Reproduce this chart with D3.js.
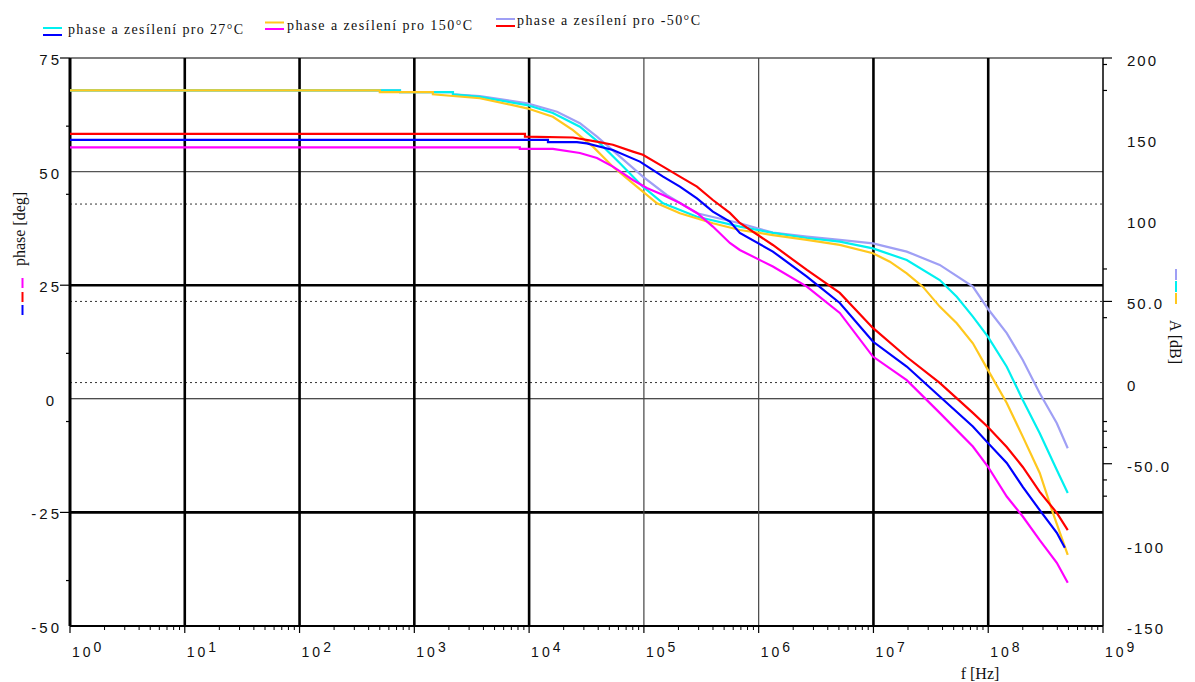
<!DOCTYPE html>
<html><head><meta charset="utf-8">
<script src="https://cdn.jsdelivr.net/npm/d3@7"></script>
<style>body{margin:0;background:#fff}svg{display:block}</style>
</head><body>
<svg id="c" width="1195" height="682"></svg>
<script>
// ---- data (frequency [Hz], value) ----
// phase curves (left axis, deg)
const phase27 = [[1,57.0],[1.46e4,57.0],[1.46e4,56.5],[2.61e4,56.5],[3.18e4,56.2],[5.37e4,54.75],[9.23e4,52.2],[1.47e5,48.9],[2.06e5,46.7],[2.9e5,44.1],[3.99e5,41.2],[5.61e5,39.0],[6.85e5,36.5],[1.33e6,32.4],[2.63e6,26.9],[5.09e6,21.1],[9.89e6,12.6],[1.95e7,7.1],[3.78e7,0.5],[7.35e7,-6.1],[9.93e7,-9.7],[1.45e8,-14.1],[2.0e8,-19.4],[2.81e8,-24.5],[3.96e8,-29.5],[4.65e8,-32.8]];
const phase150 = [[1,55.35],[8.3e3,55.35],[8.3e3,55.0],[1.61e4,55.0],[2.77e4,54.1],[3.9e4,53.0],[5.37e4,51.1],[8.02e4,48.15],[1.06e5,46.4],[1.47e5,44.85],[2.06e5,43.1],[2.9e5,40.9],[3.99e5,37.9],[5.61e5,34.3],[6.85e5,32.75],[1.33e6,29.1],[2.63e6,24.7],[5.09e6,18.9],[9.89e6,9.3],[1.95e7,4.1],[3.78e7,-3.1],[7.35e7,-10.5],[9.93e7,-14.9],[1.45e8,-21.5],[2.0e8,-25.9],[2.81e8,-31.1],[3.96e8,-36.1],[4.93e8,-40.5]];
const phaseM50 = [[1,58.3],[9.2e3,58.3],[9.2e3,57.7],[2.41e4,57.5],[3.87e4,56.6],[5.37e4,55.9],[8.02e4,54.4],[9.8e4,53.7],[1.47e5,51.1],[2.06e5,48.9],[2.9e5,46.7],[3.99e5,43.75],[5.61e5,40.9],[6.85e5,38.7],[1.33e6,33.85],[2.63e6,28.35],[5.09e6,23.3],[9.89e6,15.6],[1.95e7,9.2],[3.78e7,3.5],[7.35e7,-3.1],[9.93e7,-6.2],[1.45e8,-10.6],[2.0e8,-15.0],[2.81e8,-20.5],[3.96e8,-25.1],[4.93e8,-28.9]];
// gain curves (right axis, dB)
const gain27 = [[1,180],[750,180],[750,179],[2.17e3,179],[2.17e3,177.6],[3.72e3,176.0],[9.6e3,171.0],[1.61e4,166.1],[2.77e4,157.7],[4.14e4,147.4],[6.18e4,135.1],[9.8e4,120.7],[1.47e5,110.5],[2.9e5,102.2],[6.85e5,96.1],[1.33e6,92.2],[2.63e6,89.1],[5.09e6,86.8],[9.89e6,82.7],[1.95e7,75.5],[3.78e7,63.2],[5.32e7,52.9],[7.35e7,40.6],[9.93e7,28.3],[1.45e8,9.8],[2.0e8,-10.7],[2.81e8,-31.2],[3.96e8,-53.9],[4.93e8,-68.0]];
const gain150 = [[1,180],[500,180],[500,179],[1.45e3,179],[1.45e3,177.6],[3.72e3,175.2],[9.6e3,169.0],[1.61e4,163.8],[2.41e4,155.6],[3.6e4,145.4],[5.37e4,133.0],[8.02e4,122.8],[1.3e5,110.5],[2.06e5,104.3],[3.99e5,98.2],[6.85e5,94.0],[1.33e6,90.9],[2.63e6,87.9],[5.09e6,84.8],[9.89e6,79.7],[1.39e7,74.5],[1.95e7,67.3],[2.69e7,59.1],[3.78e7,46.8],[5.32e7,36.5],[7.35e7,24.2],[9.93e7,7.8],[1.45e8,-12.6],[2.0e8,-33.3],[2.81e8,-55.7],[3.66e8,-80.3],[4.93e8,-106.2]];
const gainM50 = [[1,180],[750,180],[750,179],[2.17e3,179],[2.17e3,177.6],[3.72e3,176.6],[9.6e3,172.1],[1.75e4,166.9],[2.77e4,159.8],[3.9e4,151.5],[6.18e4,139.2],[9.8e4,126.9],[1.58e5,115.6],[2.9e5,104.3],[6.85e5,98.2],[1.33e6,92.4],[2.63e6,89.9],[5.09e6,87.9],[9.89e6,85.8],[1.95e7,80.7],[3.78e7,72.5],[7.35e7,59.1],[9.93e7,45.5],[1.45e8,30.5],[2.0e8,13.9],[2.81e8,-6.6],[3.96e8,-25.1],[4.93e8,-40.5]];

const legendLabels = ["phase a zesílení pro 27°C","phase a zesílení pro 150°C","phase a zesílení pro -50°C"];
const leftTicks = [-50,-25,0,25,50,75];
const leftTickLabels = ["-50","-25","0","25","50","75"];
const leftMinorTicks = [60,45,10,-5,-40];
const rightTicks = [-150,-100,-50,0,50,100,150,200];
const rightTickLabels = ["-150","-100","-50.0","0","50.0","100","150","200"];
const rightMinorTicks = [196,180,70,40,-24,-30,-40,-60,-70];
const rightDotted = [110,50,0];
const decadeExps = [0,1,2,3,4,5,6,7,8,9];

// ---- scales ----
const svg = d3.select("#c");
const x = d3.scaleLog().domain([1,1e9]).range([70,1103]);
const yL = d3.scaleLinear().domain([-50,75]).range([626,58]);
const yR = d3.scaleLinear().domain([-150,200]).range([626,58]);
const X0 = 70, X1 = 1103;

const numFont = "'Liberation Sans', Arial, sans-serif";
const serif = "'Liberation Serif', 'Times New Roman', serif";

// ---- grid ----
const g = svg.append("g");
g.append("line").attr("x1",X0).attr("x2",X1).attr("y1",yL(75)).attr("y2",yL(75)).attr("stroke","#555").attr("stroke-width",1.5);
const hgrid = [{v:50,w:1.3,c:"#555"},{v:25,w:2.6,c:"#000"},{v:0,w:1.1,c:"#111"},{v:-25,w:2.8,c:"#000"}];
g.selectAll(".hg").data(hgrid).join("line").attr("x1",X0).attr("x2",X1)
  .attr("y1",d=>yL(d.v)).attr("y2",d=>yL(d.v)).attr("stroke",d=>d.c).attr("stroke-width",d=>d.w);
g.selectAll(".dg").data(rightDotted).join("line").attr("x1",X0).attr("x2",X1)
  .attr("y1",d=>yR(d)).attr("y2",d=>yR(d)).attr("stroke","#333").attr("stroke-width",1).attr("stroke-dasharray","2,3");
const vgrid = [1,2,3,4,5,6,7,8].map(k=>({f:Math.pow(10,k),thin:(k===5||k===6)}));
g.selectAll(".vg").data(vgrid).join("line").attr("y1",yL(75)).attr("y2",yL(-50))
  .attr("x1",d=>x(d.f)).attr("x2",d=>x(d.f)).attr("stroke",d=>d.thin?"#444":"#000").attr("stroke-width",d=>d.thin?1.2:2.6);

// ---- axes ----
const bx = svg.append("g").attr("transform",`translate(0,${yL(-50)})`);
bx.append("line").attr("x1",X0).attr("x2",X1).attr("stroke","#000").attr("stroke-width",2);
const minors = [];
for (let k=0;k<9;k++) for (let m=2;m<=9;m++) minors.push(m*Math.pow(10,k));
bx.selectAll(".mt").data(minors).join("line").attr("x1",d=>x(d)).attr("x2",d=>x(d)).attr("y1",0).attr("y2",4).attr("stroke","#000").attr("stroke-width",1);
bx.selectAll(".Mt").data(decadeExps).join("line").attr("x1",d=>x(Math.pow(10,d))).attr("x2",d=>x(Math.pow(10,d))).attr("y1",0).attr("y2",7).attr("stroke","#000").attr("stroke-width",1.2);
const bl = svg.selectAll(".bl").data(decadeExps).join("text")
  .attr("x",d=>x(Math.pow(10,d))+2).attr("y",656.5)
  .attr("font-family",numFont).attr("font-size",14).attr("fill","#111").attr("letter-spacing","3px");
bl.append("tspan").text("10");
bl.append("tspan").attr("dy",-5).text(d=>d);

const ly = svg.append("g");
ly.append("line").attr("x1",X0).attr("x2",X0).attr("y1",yL(75)).attr("y2",yL(-50)).attr("stroke","#000").attr("stroke-width",3);
ly.selectAll(".lt").data([75,25,-25]).join("line").attr("x1",X0-10).attr("x2",X0).attr("y1",d=>yL(d)).attr("y2",d=>yL(d)).attr("stroke","#000").attr("stroke-width",1.2);
ly.selectAll(".lmt").data(leftMinorTicks).join("line").attr("x1",X0-4).attr("x2",X0).attr("y1",d=>yL(d)).attr("y2",d=>yL(d)).attr("stroke","#000").attr("stroke-width",1.2);
ly.selectAll(".ll").data(leftTicks).join("text").attr("x",d=>d===0?57:62).attr("y",d=>yL(d)+7)
  .attr("text-anchor","end").attr("font-family",numFont).attr("font-size",15).attr("fill","#111").attr("letter-spacing","3px")
  .text((d,i)=>leftTickLabels[i]);

const ry = svg.append("g");
ry.append("line").attr("x1",X1).attr("x2",X1).attr("y1",yR(200)).attr("y2",yR(-150)).attr("stroke","#000").attr("stroke-width",1.5);
ry.selectAll(".rt").data([200,50,-50]).join("line").attr("x1",X1).attr("x2",X1+9).attr("y1",d=>yR(d)).attr("y2",d=>yR(d)).attr("stroke","#000").attr("stroke-width",1.2);
ry.selectAll(".rmt").data(rightMinorTicks).join("line").attr("x1",X1).attr("x2",X1+4).attr("y1",d=>yR(d)).attr("y2",d=>yR(d)).attr("stroke","#000").attr("stroke-width",1.2);
ry.selectAll(".rl").data(rightTicks).join("text").attr("x",1127).attr("y",d=>yR(d)+8)
  .attr("font-family",numFont).attr("font-size",15).attr("fill","#111").attr("letter-spacing","2px")
  .text((d,i)=>rightTickLabels[i]);

// ---- curves ----
const lineL = d3.line().x(d=>x(d[0])).y(d=>yL(d[1]));
const lineR = d3.line().x(d=>x(d[0])).y(d=>yR(d[1]));
const cg = svg.append("g").attr("fill","none").attr("stroke-width",2.2).attr("stroke-linejoin","miter");
cg.append("path").datum(gainM50).attr("d",lineR).attr("stroke","#9f9ff5");
cg.append("path").datum(gain27).attr("d",lineR).attr("stroke","#00f0f0");
cg.append("path").datum(gain150).attr("d",lineR).attr("stroke","#ffc81e");
cg.append("path").datum(phase150).attr("d",lineL).attr("stroke","#ff00ff");
cg.append("path").datum(phase27).attr("d",lineL).attr("stroke","#0000ff");
cg.append("path").datum(phaseM50).attr("d",lineL).attr("stroke","#ff0000");

// ---- axis titles ----
svg.append("text").attr("transform","translate(25,229) rotate(-90)").attr("text-anchor","middle")
  .attr("font-family",serif).attr("font-size",16).attr("fill","#111").text("phase [deg]");
const leftMarks = [{c:"#ff00ff",y0:278,y1:288},{c:"#ff0000",y0:292,y1:302},{c:"#0000ff",y0:305,y1:315}];
svg.selectAll(".lm").data(leftMarks).join("line").attr("x1",22.5).attr("x2",22.5).attr("y1",d=>d.y0).attr("y2",d=>d.y1).attr("stroke",d=>d.c).attr("stroke-width",2);
svg.append("text").attr("transform","translate(1170,342) rotate(90)").attr("text-anchor","middle")
  .attr("font-family",serif).attr("font-size",16).attr("fill","#111").text("A [dB]");
const rightMarks = [{c:"#9f9ff5",y0:269,y1:280},{c:"#00f0f0",y0:281,y1:292},{c:"#ffc81e",y0:293,y1:304}];
svg.selectAll(".rm").data(rightMarks).join("line").attr("x1",1176).attr("x2",1176).attr("y1",d=>d.y0).attr("y2",d=>d.y1).attr("stroke",d=>d.c).attr("stroke-width",2);
svg.append("text").attr("x",980).attr("y",679).attr("text-anchor","middle")
  .attr("font-family",serif).attr("font-size",16).attr("fill","#111").text("f [Hz]");

// ---- legend ----
const legend = [
  {t:legendLabels[0],c1:"#00f0f0",c2:"#0000ff",sx:43,sy1:28,sy2:35,tx:68,ty:33.5,tl:175},
  {t:legendLabels[1],c1:"#ffc81e",c2:"#ff00ff",sx:265,sy1:22.5,sy2:29,tx:287,ty:29.5,tl:185},
  {t:legendLabels[2],c1:"#9f9ff5",c2:"#ff0000",sx:496,sy1:19,sy2:26,tx:517,ty:25,tl:183}
];
const lg = svg.selectAll(".lg").data(legend).join("g");
lg.append("line").attr("x1",d=>d.sx).attr("x2",d=>d.sx+19).attr("y1",d=>d.sy1).attr("y2",d=>d.sy1).attr("stroke",d=>d.c1).attr("stroke-width",2);
lg.append("line").attr("x1",d=>d.sx).attr("x2",d=>d.sx+19).attr("y1",d=>d.sy2).attr("y2",d=>d.sy2).attr("stroke",d=>d.c2).attr("stroke-width",2);
lg.append("text").attr("x",d=>d.tx).attr("y",d=>d.ty).attr("font-family",serif).attr("font-size",14).attr("fill","#111")
  .attr("textLength",d=>d.tl).attr("lengthAdjust","spacing").text(d=>d.t);
</script>
</body></html>
